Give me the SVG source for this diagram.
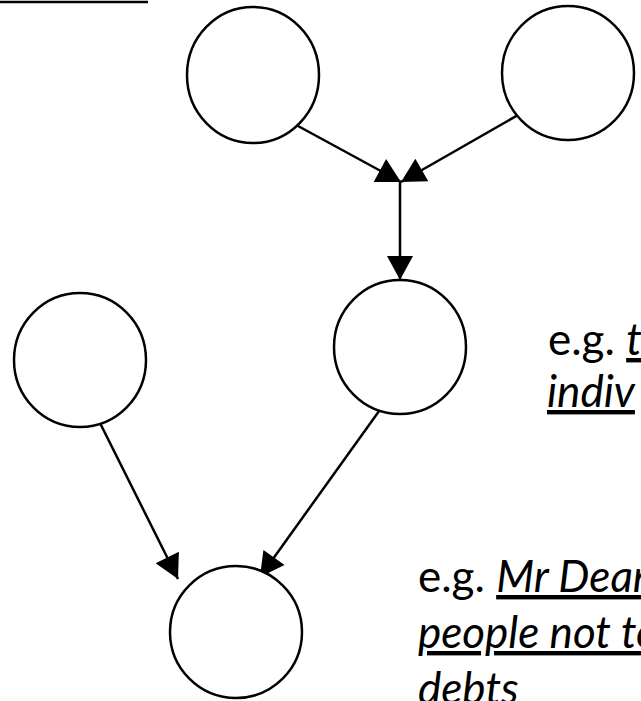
<svg xmlns="http://www.w3.org/2000/svg" width="641" height="701" viewBox="0 0 641 701">
  <style>
    .node { fill: #ffffff; stroke: #000000; stroke-width: 2.5; }
    .edge { fill: none; stroke: #000000; stroke-width: 2.5; marker-end: url(#arrow); }
    .note { font-family: Lato, "Open Sans", sans-serif; font-size: 44px; fill: #000000; }
    .em { font-style: italic; text-decoration: underline; }
  </style>
  <defs>
    <marker id="arrow" markerUnits="userSpaceOnUse" markerWidth="26" markerHeight="26" viewBox="0 0 24 26" refX="24" refY="13" orient="auto">
      <path d="M0,0 L24,13 L0,26 Z" fill="#000000"/>
    </marker>
  </defs>
  <rect width="641" height="701" fill="#ffffff"/>
  <line x1="0" y1="2" x2="148" y2="2" stroke="#000000" stroke-width="2.5"/>

  <!-- edges start inside their source ellipse; the white fill hides the overlap -->
  <g id="edges">
    <line class="edge" x1="276" y1="114" x2="401" y2="182"/>
    <line class="edge" x1="553" y1="95" x2="401" y2="182"/>
    <line class="edge" x1="400" y1="182" x2="400" y2="280"/>
    <line class="edge" x1="87" y1="397" x2="178" y2="579"/>
    <line class="edge" x1="392" y1="393" x2="260" y2="577"/>
  </g>

  <g id="node-top-left"><ellipse class="node" cx="253" cy="75" rx="66" ry="68"/></g>
  <g id="node-top-right"><ellipse class="node" cx="568" cy="73" rx="66" ry="67"/></g>
  <g id="node-middle"><ellipse class="node" cx="400" cy="347" rx="66" ry="67"/></g>
  <g id="node-left"><ellipse class="node" cx="80" cy="360" rx="66" ry="67"/></g>
  <g id="node-bottom"><ellipse class="node" cx="236" cy="632" rx="66" ry="66"/></g>

  <g id="note-top">
    <text class="note" x="548" y="355">e.g. <tspan class="em">t</tspan></text>
    <text class="note" x="547" y="407"><tspan class="em">indiv</tspan></text>
  </g>
  <g id="note-bottom">
    <text class="note" x="418" y="592">e.g. <tspan class="em">Mr Dean</tspan></text>
    <text class="note" x="418" y="648"><tspan class="em">people not to</tspan></text>
    <text class="note" x="418" y="704"><tspan class="em">debts</tspan></text>
  </g>
</svg>
